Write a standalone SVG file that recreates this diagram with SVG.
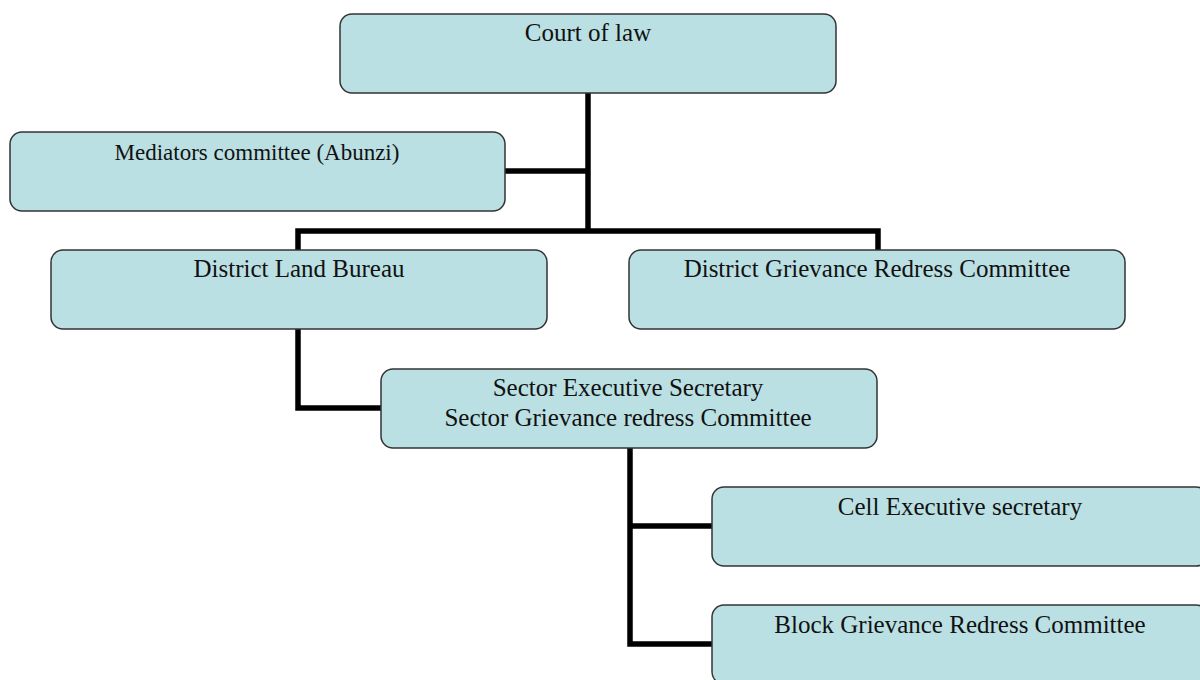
<svg xmlns="http://www.w3.org/2000/svg" width="1200" height="680" viewBox="0 0 1200 680">
<style>
.box{fill:#BAE0E3;stroke:#333;stroke-width:1.5}
.t{font-family:"Liberation Serif",serif;font-size:25px;fill:#111;text-anchor:middle}
.c{fill:none;stroke:#000;stroke-width:5.5;stroke-linejoin:miter;stroke-linecap:butt}
</style>
<rect width="1200" height="680" fill="#fff"/>
<g id="connectors">
<path class="c" d="M588 93V231"/>
<path class="c" d="M505 171H588"/>
<path class="c" d="M298 250V231H878V250"/>
<path class="c" d="M298 329V408H381"/>
<path class="c" d="M630 448V644H712"/>
<path class="c" d="M630 526H712"/>
</g>
<g id="court"><rect class="box" x="340" y="14" width="496" height="79" rx="12"/><text class="t" x="588" y="41">Court of law</text></g>
<g id="mediators"><rect class="box" x="10" y="132" width="495" height="79" rx="12"/><text class="t" x="257" y="160" style="font-size:23px">Mediators committee (Abunzi)</text></g>
<g id="dlb"><rect class="box" x="51" y="250" width="496" height="79" rx="12"/><text class="t" x="299" y="277">District Land Bureau</text></g>
<g id="dgrc"><rect class="box" x="629" y="250" width="496" height="79" rx="12"/><text class="t" x="877" y="277">District Grievance Redress Committee</text></g>
<g id="sector"><rect class="box" x="381" y="369" width="496" height="79" rx="12"/><text class="t" x="628" y="396">Sector Executive Secretary</text><text class="t" x="628" y="426">Sector Grievance redress Committee</text></g>
<g id="cell"><rect class="box" x="712" y="487" width="496" height="79" rx="12"/><text class="t" x="960" y="515">Cell Executive secretary</text></g>
<g id="block"><rect class="box" x="712" y="605" width="496" height="79" rx="12"/><text class="t" x="960" y="633">Block Grievance Redress Committee</text></g>
</svg>
